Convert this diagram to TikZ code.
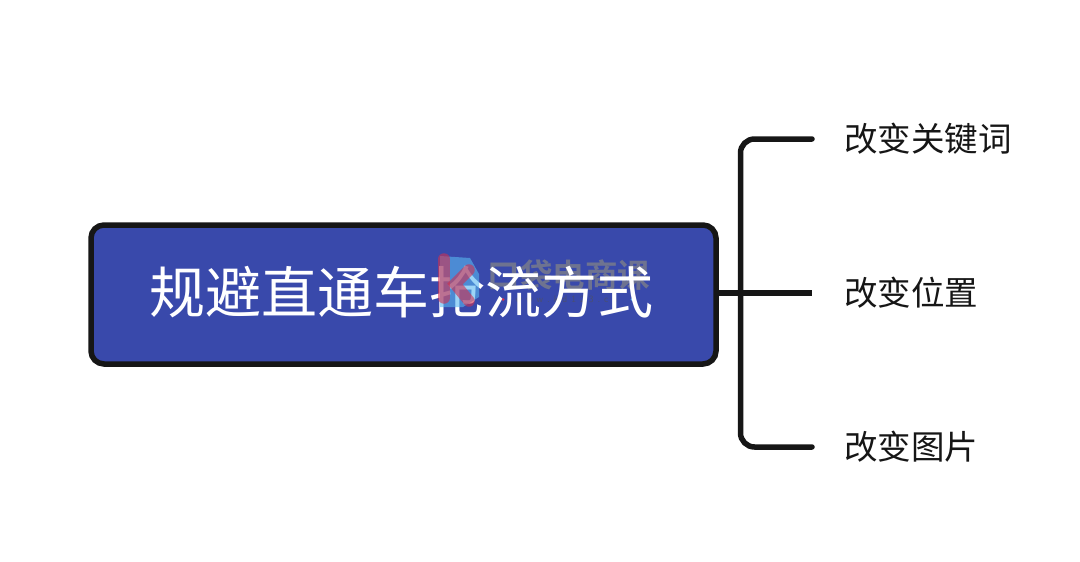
\documentclass[tikz,border=0pt]{standalone}
\usepackage{fontspec}
\newfontfamily\cjk{Noto Sans CJK SC}
\newfontfamily\cjkbold{Noto Sans CJK SC Bold}
\definecolor{boxblue}{HTML}{3949AB}
\definecolor{ink}{HTML}{161616}
\definecolor{wmgrey}{HTML}{6E7390}
\definecolor{wmblue}{HTML}{5AB8F0}
\definecolor{wmred}{HTML}{D03050}
\definecolor{wmurlc}{HTML}{4A4F70}
\tikzset{
  x=1pt,y=-1pt,
  mainbox/.style={draw=ink,fill=boxblue,line width=5.5pt,rounded corners=13pt,minimum width=625pt,minimum height=139pt,inner sep=0pt},
  maintext/.style={text=white,font=\cjk\fontsize{56}{60}\selectfont,inner sep=0pt},
  leaf/.style={text=ink,font=\cjk\fontsize{33.5}{38}\selectfont,inner sep=0pt,anchor=west},
  wire/.style={draw=ink,line width=5.5pt,line cap=round,rounded corners=14pt},
  wmtext/.style={text=wmgrey,inner sep=0pt}
}
\begin{document}
\begin{tikzpicture}
\useasboundingbox (0,0) rectangle (1080,562);
\fill[white] (0,0) rectangle (1080,562);
\coordinate (e1) at (812,139);
\coordinate (e2) at (812,293);
\coordinate (e3) at (812,447);
\coordinate (spine) at (740.5,293);
\node[mainbox] (main) at (403.5,294.5) {};
\draw[wire] (e1) -- (e1-|spine) -- (e3-|spine) -- (e3);
\draw[wire,line cap=butt] (main.east|-e2) -- (e2);
% watermark text lies under the title
\node[wmtext,font=\cjkbold\fontsize{32.5}{34}\selectfont] (wm) at (569,275) {口袋电商课};
\node[wmtext,text=wmurlc,font=\sffamily\fontsize{9.5}{12}\selectfont] (wmurl) at (566.5,299) {w\hspace{4pt}w\hspace{4pt}w\hspace{4pt}.\hspace{4pt}k\hspace{4pt}d\hspace{4pt}1\hspace{4pt}2\hspace{4pt}3\hspace{4pt}.\hspace{4pt}c\hspace{4pt}n};
\fill[wmred] (503,299.5) circle (1.5pt);
\fill[wmblue] (632,299.5) circle (1.5pt);
\node[maintext] (title) at (401.5,292) {规避直通车抢流方式};
\node[leaf] (t1) at (844,139) {改变关键词};
\node[leaf] (t2) at (844,293) {改变位置};
\node[leaf] (t3) at (844,447) {改变图片};
% watermark logo lies over the title
\fill[wmblue,opacity=.6] (440,256) -- (470,258) -- (479,274) -- (479,297) -- (463,307) -- (440,307) -- cycle;
\draw[wmred,opacity=.6,line width=11.5pt,line cap=round] (444,259) -- (444,298);
\draw[wmred,opacity=.6,line width=11.5pt,line cap=round] (469,270) -- (455,284) -- (469,301);
\end{tikzpicture}
\end{document}
